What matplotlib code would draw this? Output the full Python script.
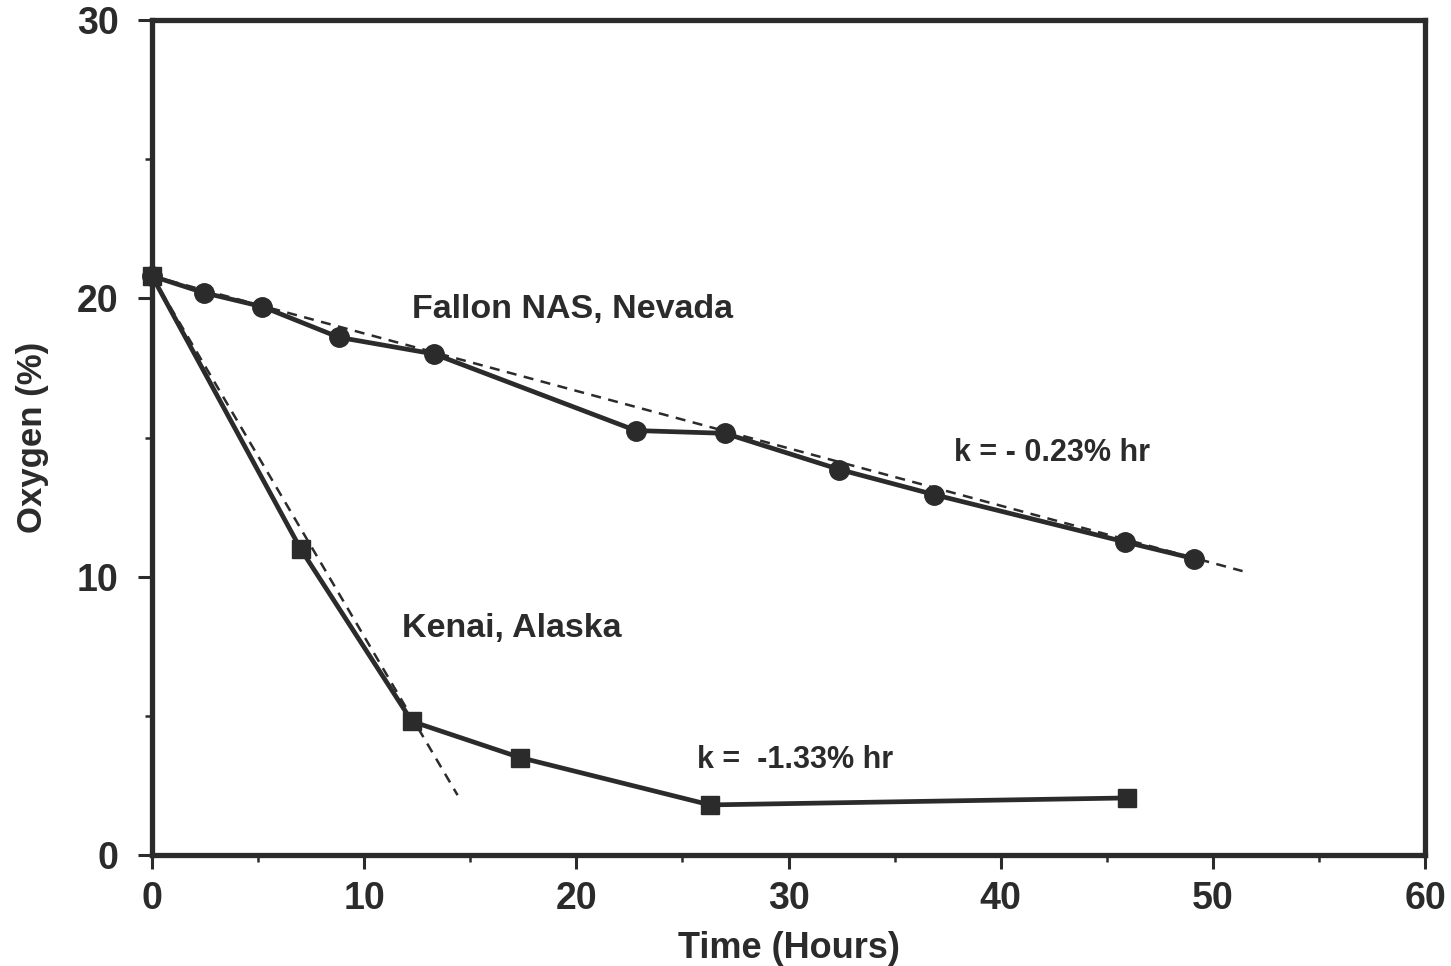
import matplotlib
matplotlib.use("Agg")
import matplotlib.pyplot as plt
from matplotlib.ticker import MultipleLocator

# Oxygen depletion measured during respiration tests
fallon_time = [0.0, 2.45, 5.2, 8.8, 13.3, 22.8, 27.0, 32.4, 36.85, 45.85, 49.1]
fallon_o2 = [20.8, 20.2, 19.7, 18.6, 18.0, 15.25, 15.15, 13.85, 12.95, 11.25, 10.65]

kenai_time = [0.0, 7.0, 12.25, 17.35, 26.3, 45.95]
kenai_o2 = [20.8, 11.0, 4.8, 3.5, 1.8, 2.05]

# Linear fits (dashed)
fallon_fit_t = [0.0, 51.4]
fallon_fit_o2 = [20.8, 10.2]
kenai_fit_t = [0.0, 14.4]
kenai_fit_o2 = [20.8, 2.15]

x_ticks = [0, 10, 20, 30, 40, 50, 60]
y_ticks = [0, 10, 20, 30]

ink = "#2b2b2b"
plt.rcParams['font.family'] = ['Liberation Sans', 'DejaVu Sans']
plt.rcParams['font.weight'] = 'bold'

fig = plt.figure(figsize=(14.51, 9.66), dpi=100)
ax = fig.add_axes([0.1048, 0.1149, 0.8773, 0.8644])

ax.plot(fallon_fit_t, fallon_fit_o2, color=ink, lw=1.8, ls=(0, (4, 3)), zorder=2)
ax.plot(kenai_fit_t, kenai_fit_o2, color=ink, lw=1.8, ls=(0, (4, 3)), zorder=2)

ax.plot(fallon_time, fallon_o2, color=ink, lw=3.4, marker='o', ms=14,
        zorder=3, clip_on=False)
ax.plot(kenai_time, kenai_o2, color=ink, lw=3.4, marker='s', ms=13,
        zorder=4, clip_on=False)

ax.set_xlim(0, 60)
ax.set_ylim(0, 30)
ax.set_xticks(x_ticks)
ax.set_yticks(y_ticks)
ax.xaxis.set_minor_locator(MultipleLocator(5))
ax.yaxis.set_minor_locator(MultipleLocator(5))

for s in ax.spines.values():
    s.set_linewidth(3.8)
    s.set_color(ink)

ax.tick_params(which='major', direction='out', length=10, width=2.2,
               color=ink, labelsize=27, labelcolor=ink, pad=9)
ax.tick_params(axis='y', which='major', pad=14)
ax.tick_params(which='minor', direction='out', length=5, width=1.8, color=ink)
for lab in ax.get_xticklabels() + ax.get_yticklabels():
    lab.set_fontweight('bold')

ax.set_xlabel("Time (Hours)", fontsize=26, color=ink, fontweight='bold', labelpad=10)
ax.set_ylabel("Oxygen (%)", fontsize=25, color=ink, fontweight='bold', labelpad=20)

ax.text(19.8, 19.6, "Fallon NAS, Nevada", fontsize=24.5, color=ink,
        fontweight='bold', ha='center', va='center')
ax.text(42.4, 14.45, "k = - 0.23% hr", fontsize=22, color=ink,
        fontweight='bold', ha='center', va='center')
ax.text(16.95, 8.15, "Kenai, Alaska", fontsize=24.5, color=ink,
        fontweight='bold', ha='center', va='center')
ax.text(30.3, 3.4, "k =  -1.33% hr", fontsize=22, color=ink,
        fontweight='bold', ha='center', va='center')

fig.savefig("out.png", dpi=100, facecolor='white')
